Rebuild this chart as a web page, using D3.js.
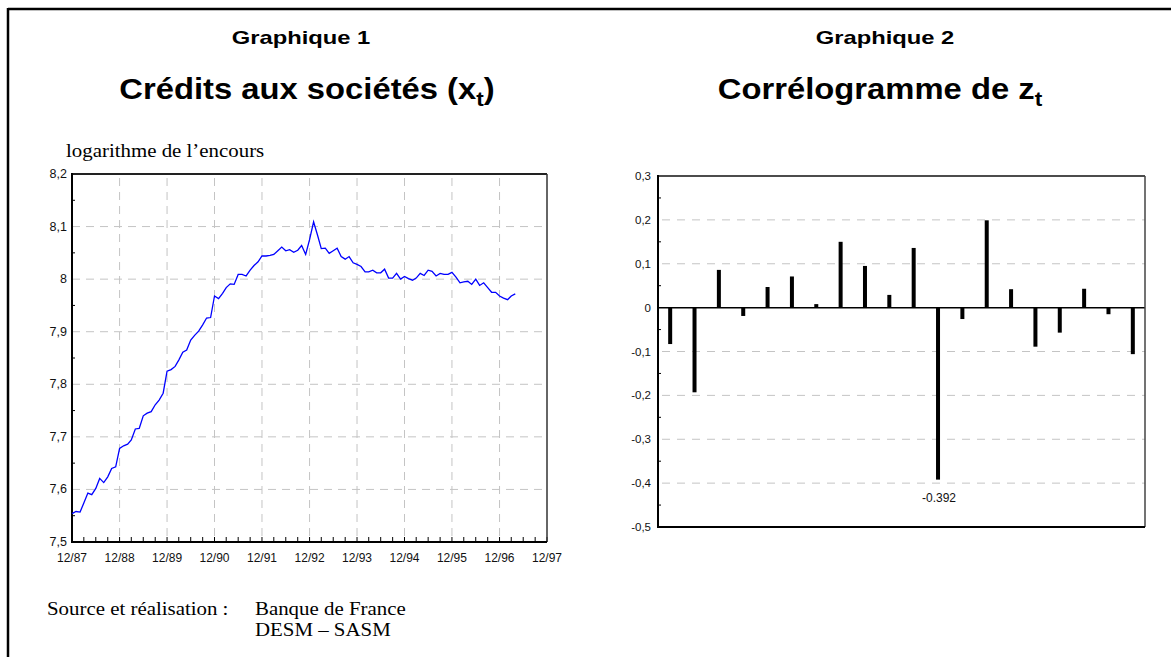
<!DOCTYPE html>
<html>
<head>
<meta charset="utf-8">
<script src="https://cdn.jsdelivr.net/npm/d3@7"></script>
<style>
  body { margin: 0; background: #fff; }
  svg text { font-family: "Liberation Sans", Arial, sans-serif; }
  .serif { font-family: "Liberation Serif", "Times New Roman", serif; }
</style>
</head>
<body>
<svg id="chart" width="1171" height="657"></svg>
<script>
// Graphique 1 : log of outstanding credit, monthly 12/87 -> 04/97
const credits = [
  7.554, 7.558, 7.557, 7.574, 7.593, 7.590, 7.602, 7.621, 7.613, 7.624, 7.640, 7.643,
  7.678, 7.683, 7.686, 7.694, 7.715, 7.716, 7.740, 7.745, 7.748, 7.761, 7.770, 7.783,
  7.825, 7.828, 7.834, 7.846, 7.861, 7.865, 7.884, 7.893, 7.901, 7.913, 7.926, 7.927,
  7.968, 7.963, 7.973, 7.984, 7.991, 7.990, 8.009, 8.009, 8.006, 8.017, 8.026, 8.033,
  8.044, 8.044, 8.045, 8.047, 8.054, 8.061, 8.054, 8.056, 8.051, 8.055, 8.064, 8.047,
  8.075, 8.109, 8.083, 8.058, 8.059, 8.049, 8.054, 8.059, 8.043, 8.038, 8.043, 8.031,
  8.028, 8.024, 8.014, 8.014, 8.017, 8.012, 8.012, 8.019, 8.002, 8.002, 8.011, 8.000,
  8.005, 8.001, 7.998, 8.002, 8.011, 8.007, 8.017, 8.015, 8.006, 8.011, 8.009, 8.009,
  8.013, 8.004, 7.993, 7.995, 7.996, 7.990, 8.000, 7.988, 7.993, 7.984, 7.975, 7.975,
  7.968, 7.964, 7.961, 7.968, 7.972
];
const yearLabels = ["12/87", "12/88", "12/89", "12/90", "12/91", "12/92", "12/93", "12/94", "12/95", "12/96", "12/97"];
const creditTicks = [7.5, 7.6, 7.7, 7.8, 7.9, 8, 8.1, 8.2];

// Graphique 2 : correlogram of z_t, lags 1..20
const lags = d3.range(1, 21);
const acf = [-0.083, -0.193, 0.086, -0.019, 0.047, 0.071, 0.008, 0.150, 0.095, 0.029,
             0.136, -0.392, -0.026, 0.199, 0.042, -0.089, -0.057, 0.043, -0.015, -0.106];
const acfTicks = [0.3, 0.2, 0.1, 0, -0.1, -0.2, -0.3, -0.4, -0.5];

const fmt = v => String(v).replace(".", ",");
const svg = d3.select("#chart");

// outer frame
svg.append("line").attr("x1", 8).attr("x2", 1171).attr("y1", 9).attr("y2", 9)
  .attr("stroke", "#000").attr("stroke-width", 2.5);
svg.append("line").attr("x1", 8).attr("x2", 8).attr("y1", 8).attr("y2", 657)
  .attr("stroke", "#000").attr("stroke-width", 2.5);

// the source picture is a bit stretched sideways, so texts get a scaleX
function wideText(x, y, sx, cls) {
  return svg.append("text").attr("class", cls || null)
    .attr("transform", `translate(${x},${y}) scale(${sx},1)`);
}

function titles(cx, cx2, num, main, sub) {
  wideText(cx, 44, 1.25).attr("text-anchor", "middle")
    .attr("font-weight", "bold").attr("font-size", 19).text("Graphique " + num);
  const t = wideText(cx2, 99, 1.13).attr("text-anchor", "middle")
    .attr("font-weight", "bold").attr("font-size", 29);
  t.append("tspan").text(main);
  t.append("tspan").attr("font-size", 20).attr("dy", 7).text("t");
  if (sub) t.append("tspan").attr("dy", -7).text(sub);
}
titles(301, 307, 1, "Crédits aux sociétés (x", ")");
titles(885, 880, 2, "Corrélogramme de z", "");

// ---------- chart 1 ----------
const m1 = { left: 72, right: 547, top: 174, bottom: 542 };
const t0 = new Date(1987, 11, 1);
const dates = credits.map((d, i) => new Date(1987, 11 + i, 1));
const x1 = d3.scaleTime().domain([t0, new Date(1997, 11, 1)]).range([m1.left, m1.right]);
const y1 = d3.scaleLinear().domain([7.5, 8.2]).range([m1.bottom, m1.top]);
const yearDates = yearLabels.map((d, i) => new Date(1987 + i, 11, 1));
const quarterDates = d3.range(0, 41).map(q => new Date(1987, 11 + q * 3, 1));

const g1 = svg.append("g");
g1.selectAll(".vg").data(yearDates.slice(1, -1)).enter().append("line")
  .attr("x1", d => x1(d)).attr("x2", d => x1(d)).attr("y1", m1.top + 4).attr("y2", m1.bottom)
  .attr("stroke", "#c4c4c4").attr("stroke-dasharray", "8,6");
g1.selectAll(".hg").data(creditTicks.slice(1, -1)).enter().append("line")
  .attr("x1", m1.left).attr("x2", m1.right - 4).attr("y1", d => y1(d)).attr("y2", d => y1(d))
  .attr("stroke", "#c4c4c4").attr("stroke-dasharray", "8,6");

// quarterly ticks
g1.selectAll(".qt").data(quarterDates).enter().append("line")
  .attr("x1", d => x1(d)).attr("x2", d => x1(d)).attr("y1", m1.bottom).attr("y2", m1.bottom - 5)
  .attr("stroke", "#000").attr("stroke-width", 1);
// half-step y ticks
g1.selectAll(".yt").data(d3.range(7.55, 8.2, 0.1)).enter().append("line")
  .attr("x1", m1.left).attr("x2", m1.left + 3).attr("y1", d => y1(d)).attr("y2", d => y1(d))
  .attr("stroke", "#000");

g1.append("line").attr("x1", m1.left).attr("x2", m1.right).attr("y1", m1.top).attr("y2", m1.top)
  .attr("stroke", "#222").attr("stroke-width", 2);
g1.append("line").attr("x1", m1.right).attr("x2", m1.right).attr("y1", m1.top).attr("y2", m1.bottom)
  .attr("stroke", "#333").attr("stroke-width", 1.5);
g1.append("line").attr("x1", m1.left).attr("x2", m1.right).attr("y1", m1.bottom).attr("y2", m1.bottom)
  .attr("stroke", "#000").attr("stroke-width", 2);
g1.append("line").attr("x1", m1.left).attr("x2", m1.left).attr("y1", m1.top - 1).attr("y2", m1.bottom + 1)
  .attr("stroke", "#000").attr("stroke-width", 2);

g1.selectAll(".yl").data(creditTicks).enter().append("text")
  .attr("x", m1.left - 5).attr("y", d => y1(d) + 4).attr("text-anchor", "end")
  .attr("font-size", 12.5).attr("fill", "#111").text(fmt);
g1.selectAll(".xl").data(yearLabels).enter().append("text")
  .attr("x", (d, i) => x1(yearDates[i])).attr("y", m1.bottom + 20).attr("text-anchor", "middle")
  .attr("font-size", 12).attr("fill", "#111").text(d => d);

g1.append("path").datum(credits)
  .attr("fill", "none").attr("stroke", "#0000ff").attr("stroke-width", 1.3)
  .attr("d", d3.line().x((d, i) => x1(dates[i])).y(d => y1(d)));

wideText(66, 157, 1.16, "serif").attr("font-size", 18).text("logarithme de l\u2019encours");
wideText(47, 615, 1.16, "serif").attr("font-size", 18).text("Source et réalisation :");
wideText(255, 615, 1.16, "serif").attr("font-size", 18).text("Banque de France");
wideText(255, 636, 1.16, "serif").attr("font-size", 18).text("DESM \u2013 SASM");

// ---------- chart 2 ----------
const m2 = { left: 658, right: 1145, top: 176, bottom: 527 };
const x2 = d3.scaleBand().domain(lags).range([m2.left, m2.right]);
const y2 = d3.scaleLinear().domain([-0.5, 0.3]).range([m2.bottom, m2.top]);
const g2 = svg.append("g");

g2.selectAll(".hg").data(acfTicks.filter(d => d !== 0 && d !== 0.3 && d !== -0.5)).enter().append("line")
  .attr("x1", m2.left + 4).attr("x2", m2.right).attr("y1", d => y2(d)).attr("y2", d => y2(d))
  .attr("stroke", "#c4c4c4").attr("stroke-dasharray", "8,7");
g2.selectAll(".yt").data(d3.range(-0.45, 0.3, 0.1)).enter().append("line")
  .attr("x1", m2.left).attr("x2", m2.left + 3).attr("y1", d => y2(d)).attr("y2", d => y2(d))
  .attr("stroke", "#000");

g2.selectAll(".bar").data(acf).enter().append("rect")
  .attr("x", (d, i) => x2(lags[i]) + x2.bandwidth() / 2 - 2)
  .attr("width", 4)
  .attr("y", d => y2(Math.max(0, d)))
  .attr("height", d => Math.abs(y2(d) - y2(0)))
  .attr("fill", "#000");

g2.append("line").attr("x1", m2.left).attr("x2", m2.right).attr("y1", y2(0)).attr("y2", y2(0))
  .attr("stroke", "#000").attr("stroke-width", 1.5);
g2.append("line").attr("x1", m2.left).attr("x2", m2.right).attr("y1", m2.top).attr("y2", m2.top)
  .attr("stroke", "#111").attr("stroke-width", 1.5);
g2.append("line").attr("x1", m2.right).attr("x2", m2.right).attr("y1", m2.top).attr("y2", m2.bottom)
  .attr("stroke", "#444").attr("stroke-width", 1.5);
g2.append("line").attr("x1", m2.left).attr("x2", m2.right).attr("y1", m2.bottom).attr("y2", m2.bottom)
  .attr("stroke", "#000").attr("stroke-width", 2);
g2.append("line").attr("x1", m2.left).attr("x2", m2.left).attr("y1", m2.top - 1).attr("y2", m2.bottom + 1)
  .attr("stroke", "#000").attr("stroke-width", 2);

g2.selectAll(".yl").data(acfTicks).enter().append("text")
  .attr("x", m2.left - 7).attr("y", d => y2(d) + 4).attr("text-anchor", "end")
  .attr("font-size", 11.5).attr("fill", "#111").text(fmt);

const minIdx = d3.minIndex(acf);
g2.append("text").attr("x", x2(lags[minIdx]) + x2.bandwidth() / 2 + 1).attr("y", y2(acf[minIdx]) + 22)
  .attr("text-anchor", "middle").attr("font-size", 12).attr("fill", "#111")
  .text(acf[minIdx].toFixed(3));
</script>
</body>
</html>
